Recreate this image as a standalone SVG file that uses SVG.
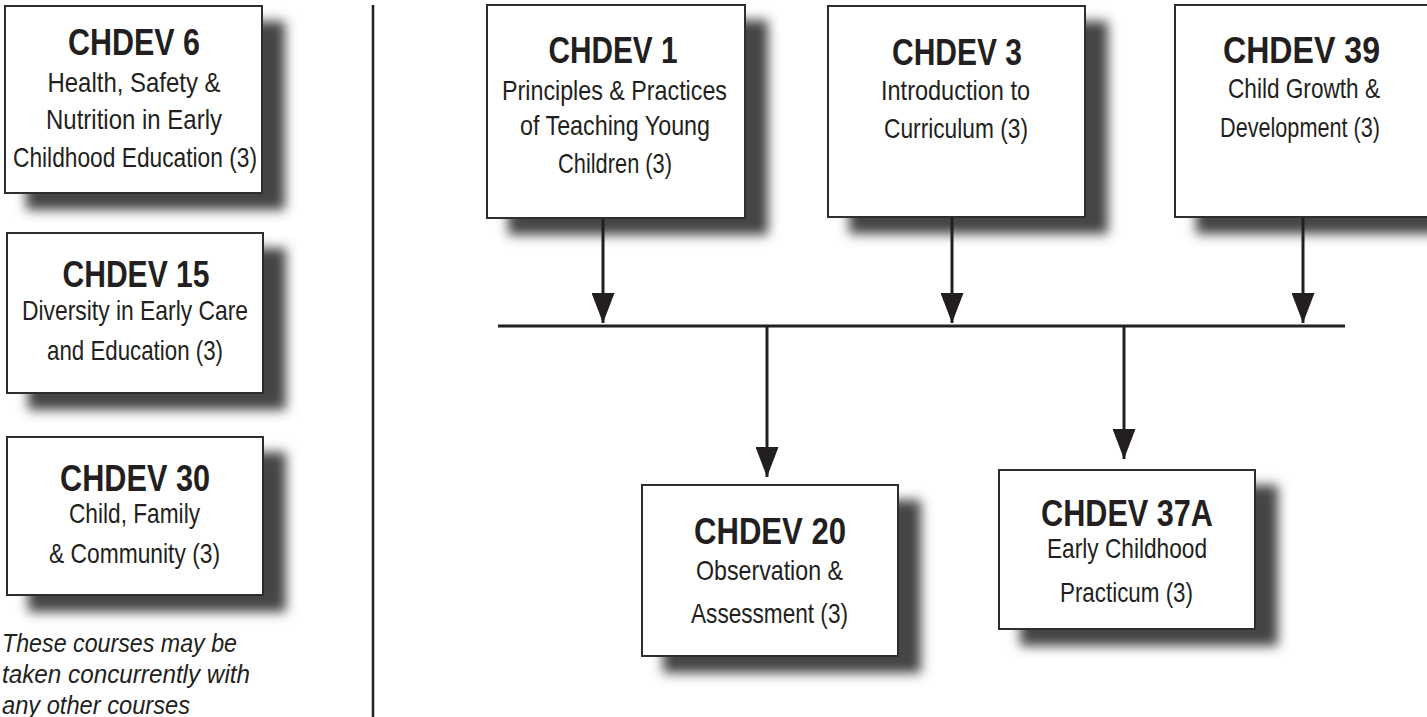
<svg xmlns="http://www.w3.org/2000/svg" width="1427" height="717" viewBox="0 0 1427 717">
<style>
.box{fill:#fff;stroke:#2e2e2e;stroke-width:2}
.t{font-family:"Liberation Sans Narrow","Liberation Sans",Arial,sans-serif;font-weight:bold;font-size:37.5px;fill:#231f20;text-anchor:middle}
.b{font-family:"Liberation Sans Narrow","Liberation Sans",Arial,sans-serif;font-size:28px;fill:#231f20;text-anchor:middle}
.n{font-family:"Liberation Sans Narrow","Liberation Sans",Arial,sans-serif;font-style:italic;font-size:25.5px;fill:#231f20}
.c{stroke:#231f20;stroke-width:3;fill:none}
</style>
<defs>
<filter id="sh" x="-10%" y="-10%" width="135%" height="140%">
<feGaussianBlur in="SourceAlpha" stdDeviation="6"/>
<feOffset dx="22" dy="16" result="o"/>
<feFlood flood-color="#444444" flood-opacity="1"/>
<feComposite in2="o" operator="in"/>
<feMerge><feMergeNode/><feMergeNode in="SourceGraphic"/></feMerge>
</filter>
<marker id="ah" viewBox="0 0 30 23" refX="30" refY="11.5" markerWidth="30" markerHeight="23" markerUnits="userSpaceOnUse" orient="auto">
<path d="M0,0 L30,11.5 L0,23 Z" fill="#231f20"/>
</marker>
</defs>
<rect width="1427" height="717" fill="#fff"/>

<g id="divider">
<line x1="373" y1="5" x2="373" y2="717" stroke="#231f20" stroke-width="2.5"/>
</g>

<g id="chdev6">
<rect class="box" x="5" y="6" width="257" height="187" filter="url(#sh)"/>
<text class="t" x="134" y="55" textLength="132" lengthAdjust="spacingAndGlyphs">CHDEV 6</text>
<text class="b" x="134" y="92" textLength="173" lengthAdjust="spacingAndGlyphs">Health, Safety &amp;</text>
<text class="b" x="134" y="129" textLength="176" lengthAdjust="spacingAndGlyphs">Nutrition in Early</text>
<text class="b" x="135" y="167" textLength="244" lengthAdjust="spacingAndGlyphs">Childhood Education (3)</text>
</g>

<g id="chdev15">
<rect class="box" x="7" y="233" width="256" height="160" filter="url(#sh)"/>
<text class="t" x="136" y="287" textLength="147" lengthAdjust="spacingAndGlyphs">CHDEV 15</text>
<text class="b" x="135" y="320" textLength="226" lengthAdjust="spacingAndGlyphs">Diversity in Early Care</text>
<text class="b" x="135" y="360" textLength="176" lengthAdjust="spacingAndGlyphs">and Education (3)</text>
</g>

<g id="chdev30">
<rect class="box" x="7" y="437" width="256" height="158" filter="url(#sh)"/>
<text class="t" x="135" y="491" textLength="150" lengthAdjust="spacingAndGlyphs">CHDEV 30</text>
<text class="b" x="134.5" y="523" textLength="131" lengthAdjust="spacingAndGlyphs">Child, Family</text>
<text class="b" x="134.5" y="563" textLength="171" lengthAdjust="spacingAndGlyphs">&amp; Community (3)</text>
</g>

<g id="note">
<text class="n" x="2" y="652" textLength="235" lengthAdjust="spacingAndGlyphs">These courses may be</text>
<text class="n" x="2" y="683" textLength="248" lengthAdjust="spacingAndGlyphs">taken concurrently with</text>
<text class="n" x="2" y="714" textLength="188" lengthAdjust="spacingAndGlyphs">any other courses</text>
</g>

<g id="chdev1">
<rect class="box" x="487" y="5" width="258" height="213" filter="url(#sh)"/>
<text class="t" x="613" y="63" textLength="129" lengthAdjust="spacingAndGlyphs">CHDEV 1</text>
<text class="b" x="614.5" y="100" textLength="225" lengthAdjust="spacingAndGlyphs">Principles &amp; Practices</text>
<text class="b" x="615" y="135" textLength="190" lengthAdjust="spacingAndGlyphs">of Teaching Young</text>
<text class="b" x="615" y="173" textLength="114" lengthAdjust="spacingAndGlyphs">Children (3)</text>
</g>

<g id="chdev3">
<rect class="box" x="828" y="6" width="257" height="211" filter="url(#sh)"/>
<text class="t" x="957" y="65" textLength="130" lengthAdjust="spacingAndGlyphs">CHDEV 3</text>
<text class="b" x="955.5" y="100" textLength="149" lengthAdjust="spacingAndGlyphs">Introduction to</text>
<text class="b" x="956" y="138" textLength="144" lengthAdjust="spacingAndGlyphs">Curriculum (3)</text>
</g>

<g id="chdev39">
<rect class="box" x="1175" y="5" width="262" height="212" filter="url(#sh)"/>
<text class="t" x="1301.5" y="63" textLength="157" lengthAdjust="spacingAndGlyphs">CHDEV 39</text>
<text class="b" x="1304" y="98" textLength="152" lengthAdjust="spacingAndGlyphs">Child Growth &amp;</text>
<text class="b" x="1300" y="137" textLength="160" lengthAdjust="spacingAndGlyphs">Development (3)</text>
</g>

<g id="chdev20">
<rect class="box" x="642" y="485" width="256" height="171" filter="url(#sh)"/>
<text class="t" x="770" y="544" textLength="152" lengthAdjust="spacingAndGlyphs">CHDEV 20</text>
<text class="b" x="769.5" y="580" textLength="147" lengthAdjust="spacingAndGlyphs">Observation &amp;</text>
<text class="b" x="769.5" y="623" textLength="157" lengthAdjust="spacingAndGlyphs">Assessment (3)</text>
</g>

<g id="chdev37a">
<rect class="box" x="999" y="470" width="256" height="159" filter="url(#sh)"/>
<text class="t" x="1127" y="526" textLength="172" lengthAdjust="spacingAndGlyphs">CHDEV 37A</text>
<text class="b" x="1127" y="558" textLength="160" lengthAdjust="spacingAndGlyphs">Early Childhood</text>
<text class="b" x="1126.5" y="602" textLength="133" lengthAdjust="spacingAndGlyphs">Practicum (3)</text>
</g>

<g id="connectors">
<line class="c" x1="603" y1="219" x2="603" y2="323" marker-end="url(#ah)"/>
<line class="c" x1="952" y1="218" x2="952" y2="323" marker-end="url(#ah)"/>
<line class="c" x1="1303" y1="218" x2="1303" y2="323" marker-end="url(#ah)"/>
<line class="c" x1="498" y1="326" x2="1345" y2="326"/>
<line class="c" x1="767" y1="326" x2="767" y2="477" marker-end="url(#ah)"/>
<line class="c" x1="1124" y1="326" x2="1124" y2="459" marker-end="url(#ah)"/>
</g>
</svg>
